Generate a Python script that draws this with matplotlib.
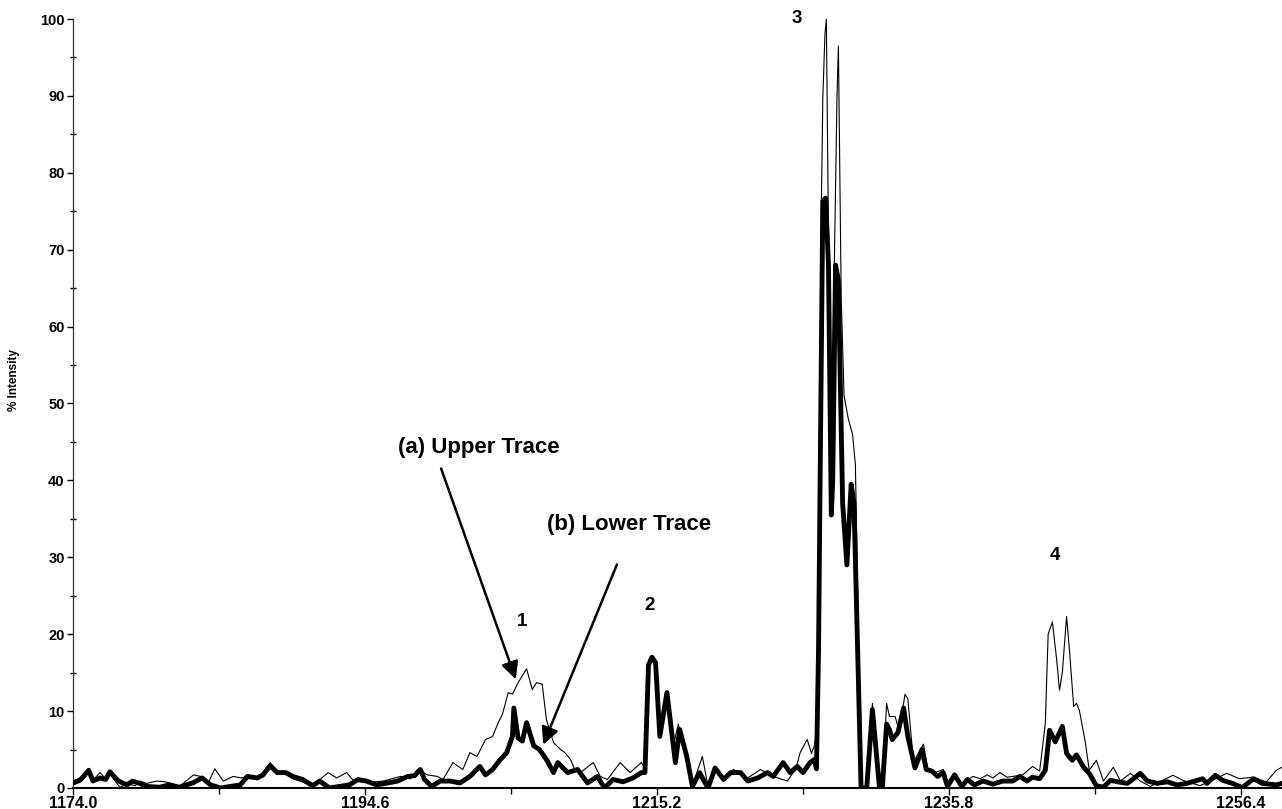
import matplotlib.pyplot as plt
from matplotlib.ticker import MultipleLocator, FixedLocator

plt.rcParams["font.family"] = ["Liberation Sans", "DejaVu Sans"]
plt.rcParams["font.weight"] = "bold"

# upper trace (a) - thin line
upper_mz = [
    1174.0, 1174.5, 1175.1, 1175.4, 1175.9, 1176.3, 1176.6, 1177.3, 1177.8, 1178.4,
    1178.7, 1179.2, 1179.9, 1180.5, 1181.1, 1181.5, 1182.5, 1183.0, 1183.5, 1184.0,
    1184.6, 1185.3, 1185.9, 1186.3, 1187.0, 1187.4, 1187.9, 1188.4, 1189.0, 1189.5,
    1190.0, 1190.9, 1192.0, 1192.6, 1193.3, 1193.8, 1194.7, 1195.9, 1197.1, 1197.8,
    1198.3, 1199.0, 1199.7, 1200.1, 1200.8, 1201.5, 1202.0, 1202.5, 1203.1, 1203.6,
    1204.0, 1204.3, 1204.7, 1205.0, 1205.4, 1206.0, 1206.4, 1206.7, 1207.1, 1207.4,
    1207.9, 1208.4, 1208.7, 1209.1, 1209.4, 1209.8, 1210.7, 1211.2, 1211.7, 1212.6,
    1213.3, 1214.1, 1214.35, 1214.6, 1214.85, 1215.1, 1215.4, 1215.9, 1216.3, 1216.7,
    1217.3, 1217.7, 1218.4, 1218.8, 1219.3, 1219.9, 1220.6, 1221.6, 1222.5, 1223.4,
    1224.4, 1225.0, 1225.3, 1225.8, 1226.1, 1226.3, 1226.45, 1226.6, 1226.8, 1226.9,
    1227.05, 1227.15, 1227.3, 1227.5, 1227.6, 1227.9, 1228.0, 1228.2, 1228.4, 1228.7,
    1229.0, 1229.2, 1229.4, 1229.6, 1230.0, 1230.4, 1230.9, 1231.1, 1231.4, 1231.6,
    1232.0, 1232.2, 1232.6, 1232.7, 1232.9, 1233.3, 1234.0, 1234.3, 1234.8, 1235.4,
    1235.7, 1236.2, 1236.7, 1237.5, 1238.0, 1238.5, 1238.9, 1239.4, 1239.9, 1240.3,
    1241.0, 1241.7, 1242.2, 1242.6, 1242.8, 1243.1, 1243.4, 1243.6, 1243.8, 1244.1,
    1244.3, 1244.6, 1244.8, 1245.0, 1245.4, 1245.7, 1246.2, 1246.7, 1247.4, 1247.9,
    1248.6, 1249.3, 1250.0, 1250.9, 1251.6, 1252.3, 1253.5, 1254.4, 1255.4, 1256.3,
    1257.2, 1258.2, 1258.9, 1259.3,
]
upper_int = [
    0.9, 1.3, 2.0, 1.0, 2.0, 1.2, 1.8, 0.1, 0.5, 0.3,
    0.9, 0.6, 0.9, 0.8, 0.5, 0.2, 1.7, 1.5, 0.5, 2.5,
    0.9, 1.5, 1.3, 1.5, 1.3, 1.9, 3.3, 2.2, 1.8, 1.2,
    0.9, 0.3, 2.0, 1.3, 2.0, 0.9, 0.7, 0.9, 1.5, 1.2,
    2.4, 1.7, 1.5, 1.1, 3.3, 2.4, 4.6, 4.1, 6.3, 6.7,
    8.5, 9.6, 12.4, 12.2, 13.7, 15.5, 12.8, 13.7, 13.5, 8.9,
    5.9, 5.0, 4.6, 3.7, 2.4, 2.0, 3.3, 1.5, 1.1, 3.3,
    2.0, 3.3, 2.5, 16.0, 17.0, 16.3, 6.7, 12.4, 5.0, 8.3,
    4.5, 0.3, 4.1, 0.2, 2.6, 1.4, 2.4, 1.3, 2.4, 1.5,
    0.9, 2.5, 4.6, 6.3, 4.5, 5.5, 7.0, 24.0, 76.0, 89.7,
    98.0, 100.0, 72.0, 39.6, 55.0, 89.7, 96.5, 63.6, 51.0, 48.0,
    46.0, 42.0, 21.0, 0.0, 0.0, 11.0, 0.0, 0.0, 11.0, 9.3,
    9.3, 8.0, 11.0, 12.2, 11.6, 3.3, 5.7, 2.5, 2.0, 2.4,
    0.2, 1.7, 0.6, 1.5, 1.2, 1.7, 1.3, 2.0, 1.4, 1.5,
    1.7, 2.8, 2.2, 8.4, 20.0, 21.6, 16.7, 12.7, 15.0, 22.3,
    18.0, 10.6, 11.0, 10.1, 6.2, 2.3, 3.6, 0.9, 2.7, 0.9,
    1.9, 0.9, 0.2, 1.0, 1.65, 1.0, 0.3, 1.0, 1.9, 1.2,
    1.4, 0.8, 2.3, 2.7,
]

# lower trace (b) - thick line
lower_mz = [
    1174.0, 1174.5, 1175.1, 1175.4, 1175.9, 1176.3, 1176.6, 1177.2, 1177.8, 1178.2,
    1178.7, 1179.2, 1180.1, 1180.8, 1181.5, 1182.5, 1183.1, 1183.7, 1184.4, 1185.1,
    1185.8, 1186.3, 1187.0, 1187.4, 1187.9, 1188.4, 1189.0, 1189.5, 1190.2, 1190.9,
    1191.4, 1192.1, 1192.8, 1193.5, 1194.1, 1194.7, 1195.4, 1196.2, 1196.9, 1197.6,
    1198.1, 1198.5, 1198.8, 1199.3, 1199.9, 1200.6, 1201.3, 1202.0, 1202.7, 1203.1,
    1203.6, 1204.1, 1204.6, 1205.0, 1205.1, 1205.4, 1205.7, 1206.0, 1206.5, 1206.9,
    1207.4, 1207.9, 1208.2, 1208.9, 1209.6, 1210.3, 1211.0, 1211.5, 1212.1, 1212.8,
    1213.5, 1214.1, 1214.35, 1214.6, 1214.85, 1215.1, 1215.4, 1215.9, 1216.5, 1216.8,
    1217.3, 1217.7, 1218.2, 1218.8, 1219.3, 1219.9, 1220.4, 1221.1, 1221.6, 1222.3,
    1223.0, 1223.4, 1224.1, 1224.6, 1225.1, 1225.5, 1226.0, 1226.3, 1226.45, 1226.6,
    1226.7, 1226.9, 1227.1, 1227.3, 1227.5, 1227.6, 1227.8, 1228.0, 1228.3, 1228.6,
    1228.9, 1229.1, 1229.6, 1230.0, 1230.4, 1230.9, 1231.1, 1231.4, 1231.6, 1231.8,
    1232.2, 1232.6, 1232.9, 1233.4, 1233.9, 1234.2, 1234.6, 1235.0, 1235.4, 1235.7,
    1236.2, 1236.7, 1237.1, 1237.6, 1238.2, 1238.9, 1239.6, 1240.3, 1240.8, 1241.3,
    1241.7, 1242.2, 1242.6, 1242.9, 1243.3, 1243.8, 1244.1, 1244.5, 1244.8, 1245.3,
    1245.7, 1246.2, 1246.7, 1247.2, 1247.7, 1248.4, 1249.3, 1249.8, 1250.5, 1251.2,
    1251.9, 1252.6, 1253.7, 1254.0, 1254.6, 1255.1, 1255.8, 1256.5, 1257.3, 1257.9,
    1258.9, 1259.3,
]
lower_int = [
    0.65, 1.0, 2.3, 0.9, 1.3, 1.1, 2.1, 0.9, 0.4, 0.9,
    0.6, 0.2, 0.1, 0.4, 0.1, 0.7, 1.3, 0.4, 0.0, 0.2,
    0.4, 1.5, 1.3, 1.7, 2.9, 2.0, 2.0, 1.5, 1.1, 0.3,
    0.9, 0.0, 0.2, 0.4, 1.1, 0.9, 0.4, 0.65, 0.9, 1.5,
    1.6, 2.4, 1.1, 0.2, 0.9, 0.9, 0.65, 1.5, 2.8, 1.7,
    2.4, 3.6, 4.6, 6.7, 10.4, 6.5, 6.1, 8.5, 5.5, 5.0,
    3.7, 2.0, 3.3, 2.0, 2.4, 0.65, 1.5, 0.0, 1.1, 0.8,
    1.3, 2.0, 2.0, 16.0, 17.0, 16.3, 6.7, 12.4, 3.3, 7.6,
    4.1, 0.2, 2.0, 0.0, 2.6, 1.1, 2.0, 2.0, 0.9, 1.3,
    2.0, 1.5, 3.3, 2.0, 2.8, 2.0, 3.3, 3.7, 2.5, 18.0,
    38.0, 76.3, 76.7, 68.0, 35.5, 40.0, 68.0, 66.0, 37.0, 29.0,
    39.5, 37.0, 0.0, 0.0, 10.2, 0.0, 0.0, 8.3, 7.6, 6.3,
    7.2, 10.4, 6.7, 2.6, 5.0, 2.4, 2.2, 1.5, 2.0, 0.2,
    1.7, 0.2, 1.1, 0.4, 0.9, 0.5, 0.9, 0.9, 1.5, 0.9,
    1.4, 1.2, 2.3, 7.5, 6.0, 8.0, 4.5, 3.6, 4.3, 2.7,
    1.9, 0.3, 0.1, 1.0, 0.8, 0.6, 1.9, 0.9, 0.6, 0.8,
    0.4, 0.6, 1.2, 0.6, 1.65, 1.0, 0.6, 0.05, 1.2, 0.6,
    0.4, 0.6,
]

x_ticks = [1174.0, 1194.6, 1215.2, 1235.8, 1256.4]
x_minor = [1184.3, 1204.9, 1225.5, 1246.1]
peak_labels = ["1", "2", "3", "4"]
peak_x = [1205.7, 1214.7, 1225.1, 1243.3]
peak_y = [21.6, 23.7, 100.1, 30.2]

fig = plt.figure(figsize=(12.82, 8.09), dpi=100)
ax = fig.add_axes([0.057, 0.026, 0.943, 0.9505])

ax.plot(upper_mz, upper_int, color="black", linewidth=0.8, zorder=2)
ax.plot(lower_mz, lower_int, color="black", linewidth=3.5, zorder=3)

ax.set_xlim(1174.0, 1259.3)
ax.set_ylim(0, 100)

ax.spines["top"].set_visible(False)
ax.spines["right"].set_visible(False)
ax.spines["bottom"].set_linewidth(1.5)
ax.spines["left"].set_linewidth(0.9)
ax.spines["left"].set_color("#333333")

ax.xaxis.set_major_locator(FixedLocator(x_ticks))
ax.xaxis.set_minor_locator(FixedLocator(x_minor))
ax.set_xticklabels([f"{v:.1f}" for v in x_ticks], fontsize=11.5, fontweight="bold")
ax.yaxis.set_major_locator(MultipleLocator(10))
ax.yaxis.set_minor_locator(MultipleLocator(5))
for lab in ax.get_yticklabels():
    lab.set_fontsize(10.5)
    lab.set_fontweight("bold")

ax.tick_params(axis="x", which="major", length=5, width=1, pad=1)
ax.tick_params(axis="x", which="minor", length=4, width=1)
ax.tick_params(axis="y", which="major", length=4, width=1, pad=2)
ax.tick_params(axis="y", which="minor", length=4, width=1, direction="inout")

ax.set_ylabel("% Intensity", fontsize=8.5, fontweight="bold")
ax.yaxis.set_label_coords(-0.044, 0.53)

for lab, px, py in zip(peak_labels, peak_x, peak_y):
    ax.text(px, py, lab, fontsize=13.5, fontweight="bold", ha="center", va="center")

ax.annotate("", xy=(1205.3, 13.8), xytext=(1199.9, 41.9),
            arrowprops=dict(arrowstyle="-|>", color="black", lw=1.8, mutation_scale=26))
ax.annotate("", xy=(1207.1, 5.3), xytext=(1212.45, 29.4),
            arrowprops=dict(arrowstyle="-|>", color="black", lw=1.8, mutation_scale=26))
ax.text(1202.6, 44.3, "(a) Upper Trace", fontsize=16, fontweight="bold", ha="center", va="center")
ax.text(1213.2, 34.3, "(b) Lower Trace", fontsize=16, fontweight="bold", ha="center", va="center")

fig.savefig("out.png", dpi=100)
